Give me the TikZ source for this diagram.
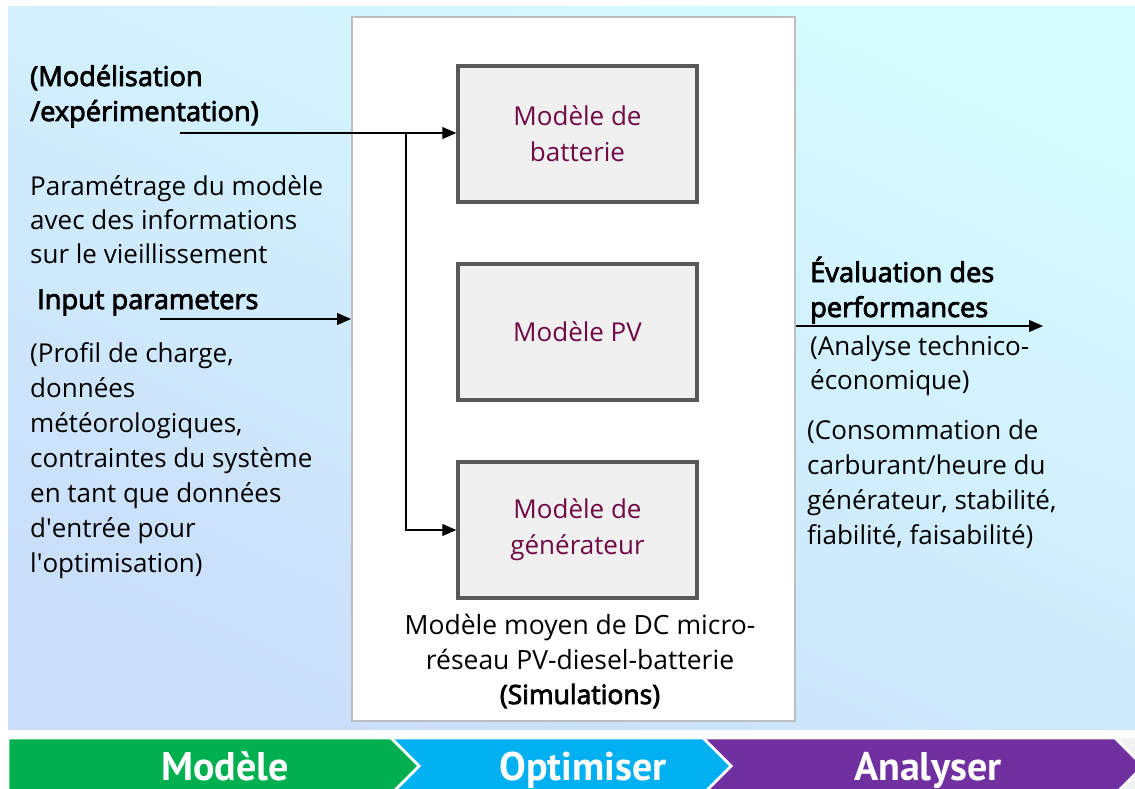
\documentclass[tikz,border=0pt]{standalone}
\usepackage{fontspec}
\setmainfont{Open Sans}[BoldFont={Open Sans}, BoldFeatures={FakeBold=3}]
\newfontfamily\bannerfont{PT Sans}
\usetikzlibrary{arrows.meta}
\definecolor{bgA}{RGB}{202,222,250}
\definecolor{bgB}{RGB}{214,252,255}
\definecolor{mainborder}{RGB}{190,190,190}
\definecolor{boxborder}{RGB}{89,89,89}
\definecolor{boxfill}{RGB}{240,240,240}
\definecolor{maroon}{RGB}{112,10,68}
\definecolor{cgreen}{RGB}{0,176,80}
\definecolor{cblue}{RGB}{0,176,240}
\definecolor{cpurple}{RGB}{112,48,160}
\definecolor{cgrey}{RGB}{242,242,242}
\begin{document}
\begin{tikzpicture}[x=1pt,y=-1pt,
  txt/.style={anchor=base west, align=left, inner sep=0pt, font=\fontsize{26}{35}\selectfont},
  txtb/.style={txt, font=\fontsize{27.2}{35}\selectfont\bfseries},
  mbox/.style={draw=boxborder, line width=3.5pt, fill=boxfill, minimum width=239pt, minimum height=136pt,
    text=maroon, align=center, inner sep=0pt, font=\fontsize{26}{36}\selectfont},
  conn/.style={draw=black, line width=1.1pt},
  arr/.style={conn, -{Triangle[length=14pt,width=12pt]}},
  chev/.style={draw=white, line width=2.5pt, line join=miter},
  bantxt/.style={text=white, inner sep=0pt, anchor=base, font=\bannerfont\fontsize{40}{40}\selectfont\bfseries}
]
\useasboundingbox (0,0) rectangle (1135,789);
% background
\shade[top color=bgB, bottom color=bgA, shading angle=-25] (8,7) rectangle (1135,729);
% main box
\node[draw=mainborder, line width=2pt, fill=white, minimum width=443pt, minimum height=704pt, inner sep=0pt]
  (main) at (573.5,369) {};
% inner boxes
\node[mbox] (bat) at (577.5,134) {Modèle de\\batterie};
\node[mbox] (pv)  at (577.5,332) {Modèle PV};
\node[mbox] (gen) at (577.5,530) {Modèle de\\générateur};
% caption
\node[anchor=base, align=center, inner sep=0pt, font=\fontsize{26.5}{35}\selectfont] (cap) at (580,704)
  {Modèle moyen de DC micro-\\réseau PV-diesel-batterie\\\textbf{(Simulations)}};
% left texts (anchor = baseline of last line)
\node[txtb] (modexp) at (30,121) {(Modélisation\\/expérimentation)};
\node[txt, font=\fontsize{26}{34}\selectfont] (param) at (30,263) {Paramétrage du modèle\\avec des informations\\sur le vieillissement};
\node[txtb] (input) at (37,309) {Input parameters};
\node[txt] (profil) at (30,572) {(Profil de charge,\\données\\météorologiques,\\contraintes du système\\en tant que données\\d\textquotesingle entrée pour\\l\textquotesingle optimisation)};
% right texts
\node[txtb] (eval) at (810,317) {Évaluation des\\performances};
\node[txt, font=\fontsize{26}{34}\selectfont] (analyse) at (810,389) {(Analyse technico-\\économique)};
\node[txt, font=\fontsize{26}{34.7}\selectfont] (conso) at (807,544) {(Consommation de\\carburant/heure du\\générateur, stabilité,\\fiabilité, faisabilité)};
% connectors
\coordinate (m0) at (180,133);
\coordinate (j1) at (406,133);
\coordinate (in1) at (160,319);
\coordinate (out1) at (1043,326);
\draw[arr] (m0) -- (m0 -| bat.west);
\draw[arr] (j1) |- (gen.west);
\draw[arr] (in1) -- (in1 -| main.west);
\draw[arr] (main.east |- out1) -- (out1);
% banner
\fill[cgrey] (1115,738) -- (1135,738) -- (1135,794) -- (1115,794) -- (1143,766) -- cycle;
\path[chev, fill=cpurple] (703,738) -- (1115,738) -- (1143,766) -- (1115,794) -- (703,794) -- (731,766) -- cycle;
\path[chev, fill=cblue] (391,738) -- (703,738) -- (731,766) -- (703,794) -- (391,794) -- (419,766) -- cycle;
\path[chev, fill=cgreen] (8,738) -- (391,738) -- (419,766) -- (391,794) -- (8,794) -- cycle;
\node[bantxt] (b1) at (225,780) {Modèle};
\node[bantxt] (b2) at (583,780) {Optimiser};
\node[bantxt] (b3) at (928,780) {Analyser};
\end{tikzpicture}
\end{document}
